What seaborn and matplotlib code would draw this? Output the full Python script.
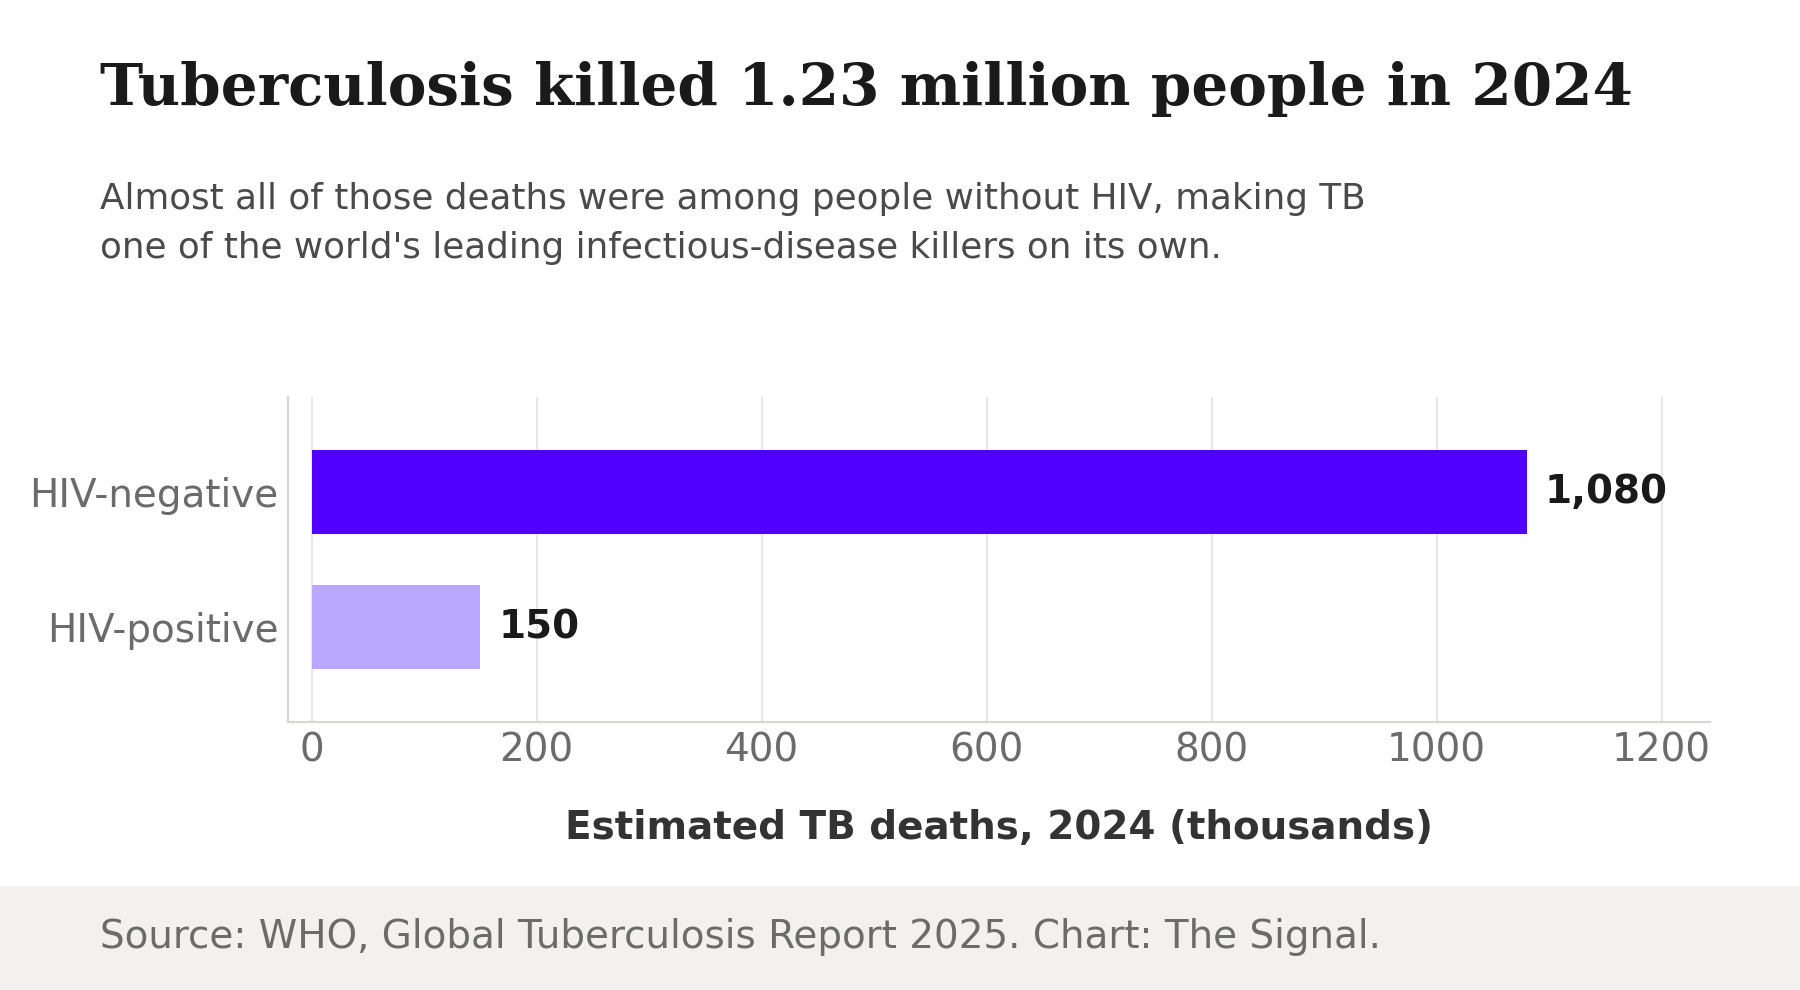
import matplotlib
matplotlib.use("Agg")
import matplotlib.pyplot as plt
from matplotlib.patches import Rectangle
import seaborn as sns
import pandas as pd

categories = ["HIV-negative", "HIV-positive"]
deaths_thousands = [1080, 150]
value_labels = ["1,080", "150"]
bar_colors = ["#5200FF", "#B8A8FF"]
x_ticks = [0, 200, 400, 600, 800, 1000, 1200]

title = "Tuberculosis killed 1.23 million people in 2024"
subtitle_lines = [
    "Almost all of those deaths were among people without HIV, making TB",
    "one of the world's leading infectious-disease killers on its own.",
]
x_label = "Estimated TB deaths, 2024 (thousands)"
source = "Source: WHO, Global Tuberculosis Report 2025. Chart: The Signal."

sns.set_theme(style="white")
plt.rcParams["font.family"] = ["DejaVu Sans"]

W, H = 1800, 990
fig = plt.figure(figsize=(9, 4.95), dpi=200)
fig.patch.set_facecolor("white")

# footer band
fig.patches.append(Rectangle((0, 0), 1, 104 / H, transform=fig.transFigure,
                             facecolor="#F2F1F0", edgecolor="none", zorder=0))

ax = fig.add_axes([288 / W, 1 - 722 / H, (1710 - 288) / W, (722 - 397) / H])

df = pd.DataFrame({"category": categories, "deaths": deaths_thousands})
sns.barplot(data=df, x="deaths", y="category", hue="category",
            palette=bar_colors, orient="h", width=0.62, ax=ax,
            legend=False, saturation=1, zorder=3, linewidth=0,
            edgecolor="none")

ax.set_xlim(-21, 1243)
ax.set_ylim(1.7, -0.7)
ax.set_xticks(x_ticks)
ax.set_xticklabels([str(t) for t in x_ticks])
ax.grid(axis="x", color="#E4E3E0", linewidth=0.6, zorder=0)
ax.grid(axis="y", visible=False)
ax.set_axisbelow(True)
for s in ["top", "right"]:
    ax.spines[s].set_visible(False)
for s in ["left", "bottom"]:
    ax.spines[s].set_color("#D8D7D3")
    ax.spines[s].set_linewidth(0.8)
ax.tick_params(axis="both", length=0, labelsize=14, labelcolor="#6B6B6B")
ax.tick_params(axis="x", pad=3.5)
ax.tick_params(axis="y", pad=3.5)
ax.set_ylabel("")
ax.set_xlabel(x_label, fontsize=14, fontweight="bold", color="#333333", labelpad=14)

for i, (v, lab) in enumerate(zip(deaths_thousands, value_labels)):
    ax.annotate(lab, xy=(v, i), xytext=(6.5, 0), textcoords="offset points",
                va="center", ha="left", fontsize=14, fontweight="bold",
                color="#1A1A1A")

fig.text(100 / W, 1 - 105 / H, title, fontsize=20.9, fontweight="bold",
         family="DejaVu Serif", color="#1A1A1A", va="baseline", ha="left")
fig.text(100 / W, 1 - 209 / H, subtitle_lines[0], fontsize=12.9,
         color="#4A4A4A", va="baseline", ha="left")
fig.text(100 / W, 1 - 258 / H, subtitle_lines[1], fontsize=12.9,
         color="#4A4A4A", va="baseline", ha="left")
fig.text(100 / W, 1 - 948 / H, source, fontsize=14,
         color="#6B6B6B", va="baseline", ha="left")

fig.savefig("out.png", dpi=200, facecolor="white")
